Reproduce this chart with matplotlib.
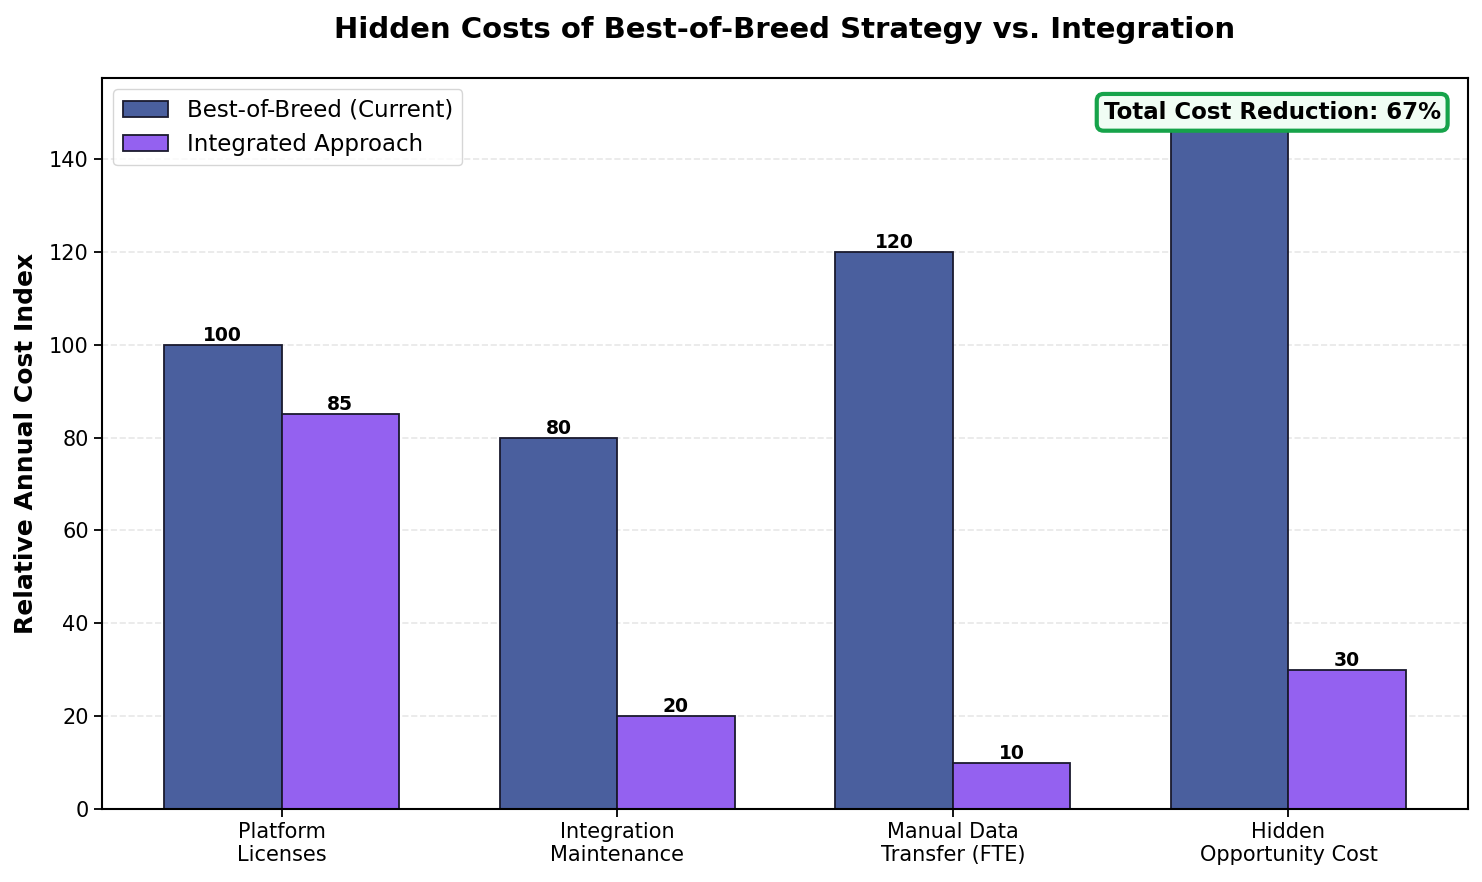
import numpy as np
import matplotlib.pyplot as plt

categories = ["Platform\nLicenses", "Integration\nMaintenance", "Manual Data\nTransfer (FTE)", "Hidden\nOpportunity Cost"]
best_of_breed = [100, 80, 120, 150]
integrated = [85, 20, 10, 30]

reduction = int((1 - sum(integrated) / sum(best_of_breed)) * 100)

fig, ax = plt.subplots(figsize=(14.82, 8.82), dpi=100)
fig.subplots_adjust(left=0.0688, right=0.9906, top=0.9116, bottom=0.0828)

x = np.arange(len(categories))
w = 0.35

b1 = ax.bar(x - w / 2, best_of_breed, w, label="Best-of-Breed (Current)",
            color="#4A5F9E", edgecolor="#1a1a2e", linewidth=1.3)
b2 = ax.bar(x + w / 2, integrated, w, label="Integrated Approach",
            color="#9461F0", edgecolor="#1a1a2e", linewidth=1.3)

for bars in (b1, b2):
    for bar in bars:
        h = bar.get_height()
        ax.text(bar.get_x() + bar.get_width() / 2, h, f"{h:.0f}",
                ha="center", va="bottom", fontsize=13.5, fontweight="bold")

ax.set_ylim(0, max(best_of_breed) * 1.05)
ax.set_xticks(x)
ax.set_xticklabels(categories, fontsize=15)
ax.tick_params(axis="y", labelsize=15)
ax.tick_params(length=6, width=1.3)
ax.set_ylabel("Relative Annual Cost Index", fontsize=18, fontweight="bold", labelpad=8)
ax.set_title("Hidden Costs of Best-of-Breed Strategy vs. Integration",
             fontsize=21, fontweight="bold", pad=29)
ax.grid(axis="y", linestyle="--", alpha=0.3, linewidth=1.2)
ax.set_axisbelow(True)
for s in ax.spines.values():
    s.set_linewidth(1.5)

ax.legend(loc="upper left", fontsize=16.5)

ax.text(0.98, 0.953, f"Total Cost Reduction: {reduction}%", transform=ax.transAxes,
        ha="right", va="center", fontsize=16.5, fontweight="bold", zorder=10,
        bbox=dict(boxstyle="round,pad=0.3", facecolor="#F0FDF4", edgecolor="#16A34A", linewidth=3))

plt.savefig("out.png")
